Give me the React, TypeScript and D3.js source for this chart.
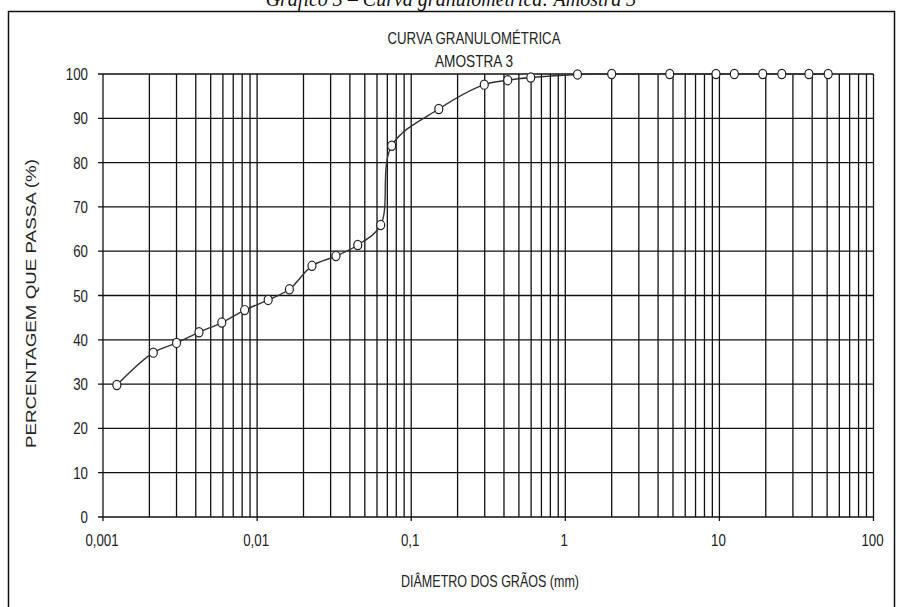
import * as d3 from "d3";
import {useEffect, useRef} from "react";

// grain diameters (mm) and percent passing
const diameters = [0.00123, 0.00212, 0.003, 0.0042, 0.0059, 0.0083, 0.0118, 0.0162, 0.0227, 0.0325, 0.045, 0.0634,
  0.0747, 0.151, 0.298, 0.423, 0.597, 1.2, 2.0, 4.76, 9.5, 12.5, 19.1, 25.4, 38.1, 50.8];
const passing = [29.8, 37.1, 39.3, 41.7, 43.9, 46.7, 49.0, 51.4, 56.7, 58.9, 61.4, 65.9,
  83.8, 92.1, 97.6, 98.6, 99.2, 99.9, 100, 100, 100, 100, 100, 100, 100, 100];

const xTicks = [0.001, 0.01, 0.1, 1, 10, 100];
const xTickLabels = ["0,001", "0,01", "0,1", "1", "10", "100"];
const yTicks = [0, 10, 20, 30, 40, 50, 60, 70, 80, 90, 100];

const font = "'Liberation Sans', Arial, sans-serif";
const squeeze = 0.83; // the original uses a narrow font

export default function App() {
  const ref = useRef<SVGSVGElement>(null);

  useEffect(() => {
    const svg = d3.select(ref.current);
    svg.selectAll("*").remove();

    const x = d3.scaleLog().domain([0.001, 100]).range([103, 873.5]);
    const y = d3.scaleLinear().domain([0, 100]).range([517, 74]);

    // caption above the frame (cut off at the top in the original)
    svg.append("text")
      .attr("x", 451).attr("y", 6)
      .attr("text-anchor", "middle")
      .attr("font-family", "'Liberation Serif', 'Times New Roman', serif")
      .attr("font-size", 20)
      .attr("font-style", "italic")
      .attr("fill", "#111")
      .text("Gráfico 3 – Curva granulométrica: Amostra 3");

    // outer frame
    svg.append("rect")
      .attr("x", 8.5).attr("y", 11.5).attr("width", 886).attr("height", 620)
      .attr("fill", "none").attr("stroke", "#111").attr("stroke-width", 1.5);

    // vertical log grid lines
    const minor: number[] = [];
    for (let e = -3; e < 2; e++) {
      for (let m = 1; m < 10; m++) minor.push(m * Math.pow(10, e));
    }
    minor.push(100);

    const g = svg.append("g");
    g.selectAll("line.v").data(minor).join("line")
      .attr("x1", d => x(d)).attr("x2", d => x(d))
      .attr("y1", y(100)).attr("y2", d => (xTicks.includes(+d.toPrecision(3)) ? y(0) + 4 : y(0)))
      .attr("stroke", "#111").attr("stroke-width", 1.3);

    g.selectAll("line.h").data(yTicks).join("line")
      .attr("x1", x(0.001) - 5).attr("x2", x(100))
      .attr("y1", d => y(d)).attr("y2", d => y(d))
      .attr("stroke", "#111").attr("stroke-width", 1.3);

    // tick labels
    svg.selectAll("text.yt").data(yTicks).join("text")
      .attr("transform", d => `translate(88,${y(d) + 6}) scale(${squeeze},1)`)
      .attr("text-anchor", "end")
      .attr("font-family", font).attr("font-size", 16).attr("fill", "#222")
      .text(d => d);

    svg.selectAll("text.xt").data(xTicks).join("text")
      .attr("transform", d => `translate(${x(d) - 1},546) scale(${squeeze},1)`)
      .attr("text-anchor", "middle")
      .attr("font-family", font).attr("font-size", 16).attr("fill", "#222")
      .text((_, i) => xTickLabels[i]);

    // titles
    const label = (t: string, px: number, py: number, len: number, rot = 0, size = 16.5) =>
      svg.append("text")
        .attr("transform", `translate(${px},${py}) rotate(${rot})`)
        .attr("text-anchor", "middle")
        .attr("font-family", font).attr("font-size", size).attr("fill", "#222")
        .attr("textLength", len).attr("lengthAdjust", "spacingAndGlyphs")
        .text(t);

    label("CURVA GRANULOMÉTRICA", 474, 44, 173);
    label("AMOSTRA  3", 474, 67, 78);
    label("DIÂMETRO  DOS GRÃOS (mm)", 490, 587, 178);
    label("PERCENTAGEM   QUE   PASSA   (%)", 36, 303.5, 289, -90, 14.5);

    // curve
    const pts = diameters.map((d, i) => [d, passing[i]] as [number, number]);
    const line = d3.line<[number, number]>()
      .x(d => x(d[0])).y(d => y(d[1]))
      .curve(d3.curveCatmullRom.alpha(0.5));

    svg.append("path").datum(pts)
      .attr("d", line)
      .attr("fill", "none").attr("stroke", "#333").attr("stroke-width", 1.4);

    svg.selectAll("ellipse.pt").data(pts).join("ellipse")
      .attr("cx", d => x(d[0])).attr("cy", d => y(d[1]))
      .attr("rx", 4).attr("ry", 4.6)
      .attr("fill", "#fff").attr("stroke", "#222").attr("stroke-width", 1.2);
  }, []);

  return <svg ref={ref} width={903} height={607}
    style={{position: "absolute", left: 0, top: 0, background: "#fff"}}></svg>;
}
